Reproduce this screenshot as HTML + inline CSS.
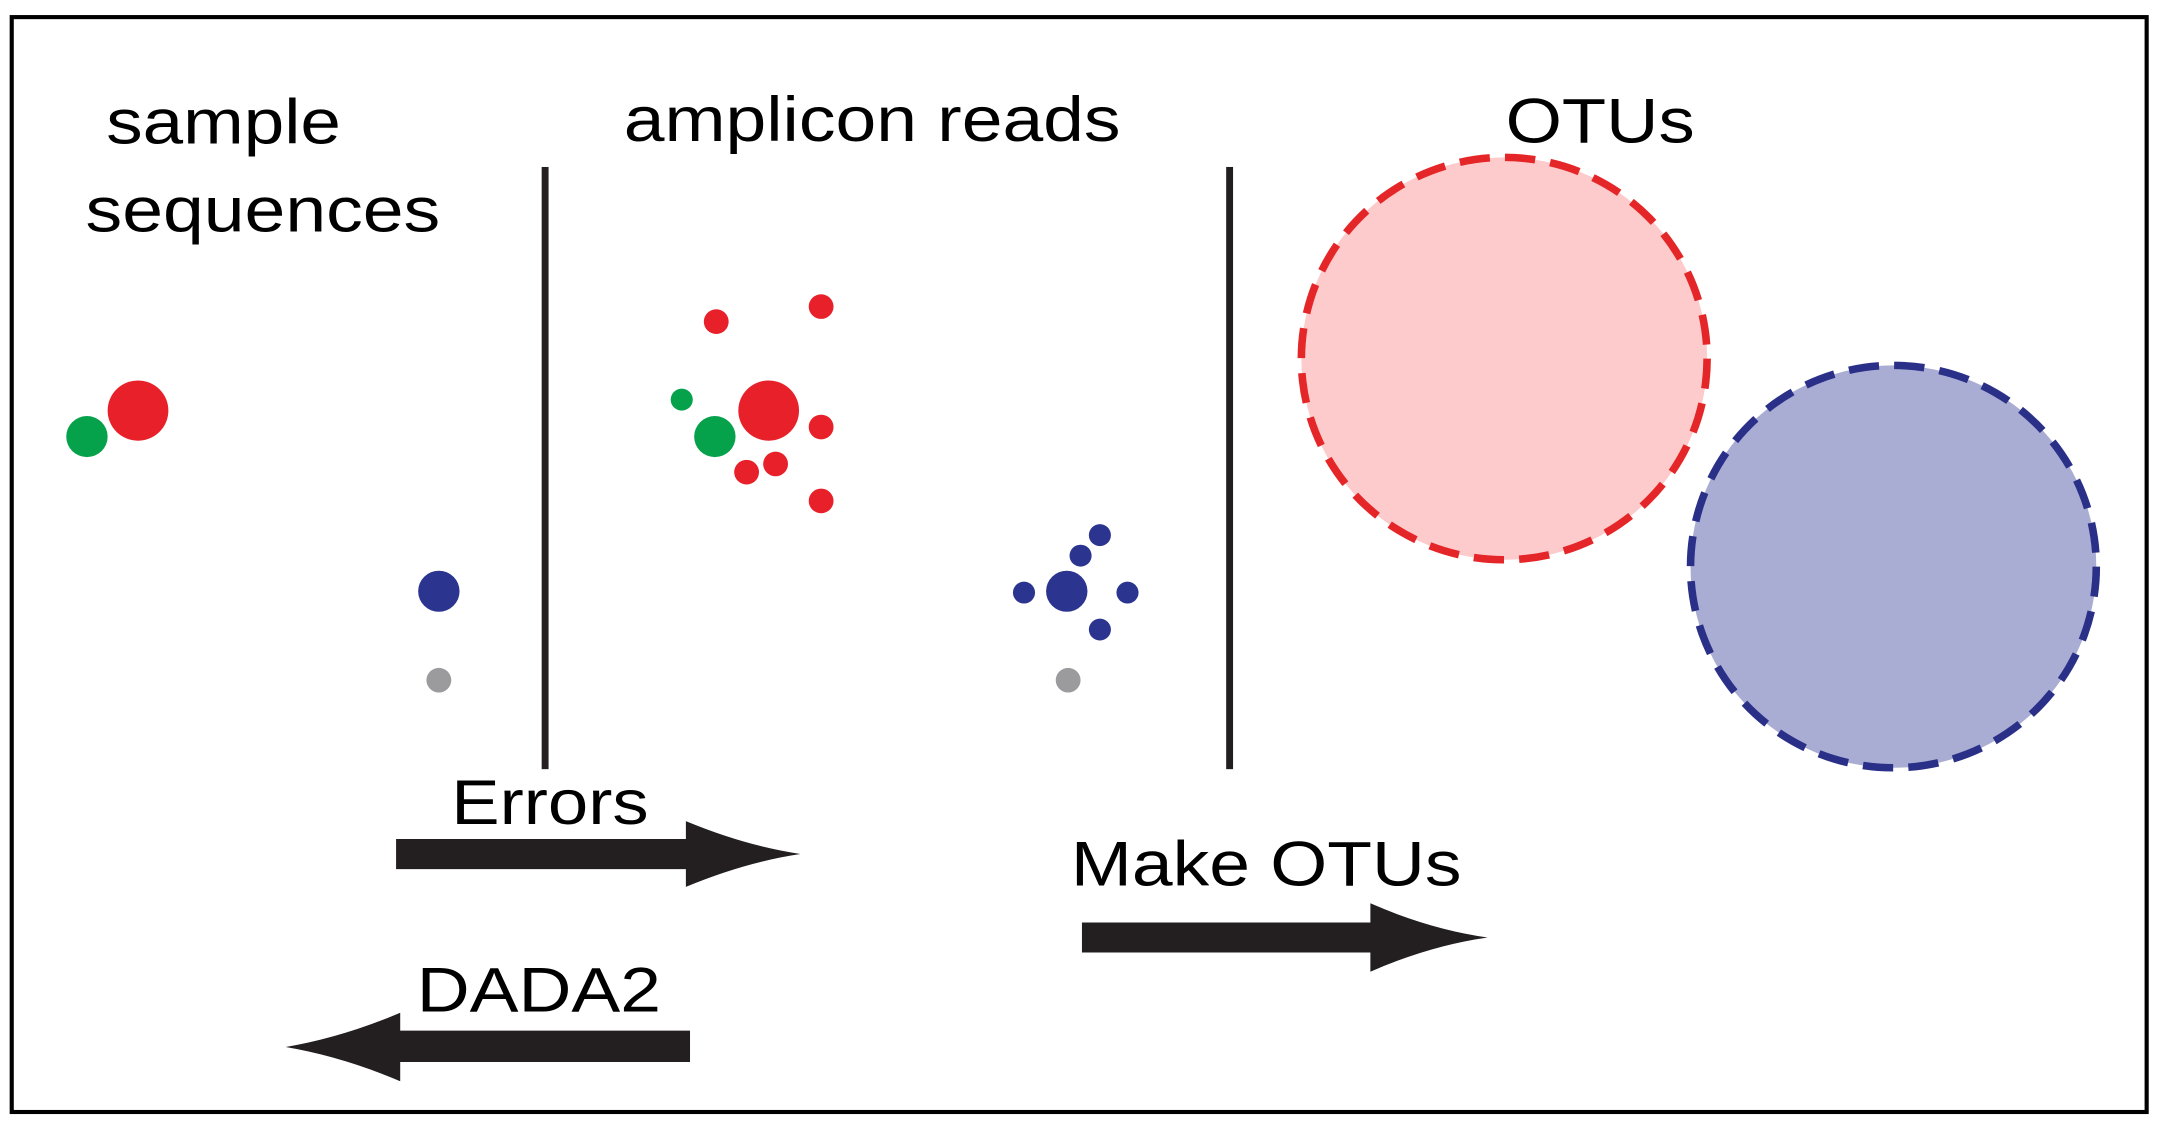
<!DOCTYPE html>
<html><head><meta charset="utf-8"><style>
html,body{margin:0;padding:0;background:#fff;width:2157px;height:1125px;overflow:hidden}
svg{display:block}
text{font-family:"Liberation Sans",Arial,sans-serif;fill:#000}
</style></head><body>
<svg id="fig" width="2157" height="1125" viewBox="0 0 1563 822" preserveAspectRatio="none" xmlns="http://www.w3.org/2000/svg">
<rect x="8.5" y="12.5" width="1547" height="800" fill="#fff" stroke="#000" stroke-width="3"/>
<text x="77" y="105" font-size="46" textLength="170" lengthAdjust="spacingAndGlyphs">sample</text>
<text x="62" y="169" font-size="46" textLength="257" lengthAdjust="spacingAndGlyphs">sequences</text>
<text x="452" y="103" font-size="46" textLength="360" lengthAdjust="spacingAndGlyphs">amplicon reads</text>
<text x="1091" y="104" font-size="46" textLength="137" lengthAdjust="spacingAndGlyphs">OTUs</text>
<rect x="392.5" y="122" width="5" height="440" fill="#231f20"/>
<rect x="888.5" y="122" width="5" height="440" fill="#231f20"/>
<g id="dots"></g>
<circle cx="1090" cy="262" r="147" fill="#fdcbcb" stroke="#e52629" stroke-width="5.5" stroke-dasharray="22 11"/>
<circle cx="1372" cy="414" r="147" fill="#aaadd3" stroke="#2a3088" stroke-width="5.5" stroke-dasharray="22 11"/>
<text x="327" y="602" font-size="46" textLength="143" lengthAdjust="spacingAndGlyphs">Errors</text>
<path d="M287 613 H497 V600 Q540 618 580 624 Q540 630 497 648 V635 H287 Z" fill="#231f20"/>
<text x="776" y="647" font-size="46" textLength="283" lengthAdjust="spacingAndGlyphs">Make OTUs</text>
<path d="M784 674 H993 V660 Q1036 679 1078 685 Q1036 691 993 710 V696 H784 Z" fill="#231f20"/>
<text x="302" y="739" font-size="46" textLength="177" lengthAdjust="spacingAndGlyphs">DADA2</text>
<path d="M500 753 H290 V740 Q248 758 207 765 Q248 772 290 790 V776 H500 Z" fill="#231f20"/>
</svg>
<script>
const dotX = [100, 63, 318, 318, 557, 518, 494, 519, 595, 595, 562, 541, 595, 773, 742, 817, 783, 797, 797, 774];
const dotY = [300, 319, 432, 497, 300, 319, 292, 235, 224, 312, 339, 345, 366, 432, 433, 433, 406, 391, 460, 497];
const dotR = [22, 15, 15, 9, 22, 15, 8, 9, 9, 9, 9, 9, 9, 15, 8, 8, 8, 8, 8, 9];
const dotKind = ["red","green","blue","gray","red","green","green","red","red","red","red","red","red","blue","blue","blue","blue","blue","blue","gray"];
const colors = {red:"#e8202a", green:"#05a14b", blue:"#2b3590", gray:"#9b9b9d"};
const g = document.getElementById('dots');
for (let i = 0; i < dotX.length; i++) {
  const c = document.createElementNS('http://www.w3.org/2000/svg', 'circle');
  c.setAttribute('cx', dotX[i]);
  c.setAttribute('cy', dotY[i]);
  c.setAttribute('r', dotR[i]);
  c.setAttribute('fill', colors[dotKind[i]]);
  
  
  g.appendChild(c);
}
</script>
</body></html>
